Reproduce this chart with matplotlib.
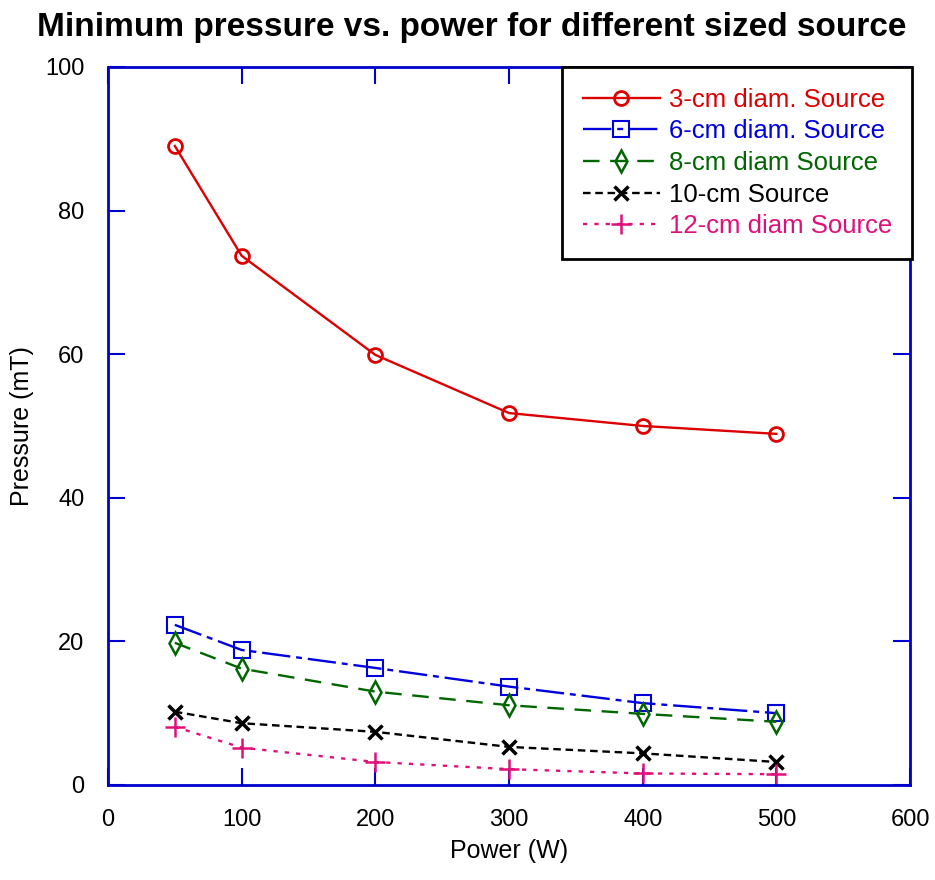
import matplotlib
matplotlib.use("Agg")
import matplotlib.pyplot as plt

plt.rcParams['font.family'] = ['Liberation Sans', 'DejaVu Sans']

power = [50, 100, 200, 300, 400, 500]
p_3cm = [89.0, 73.7, 59.9, 51.8, 50.0, 48.9]
p_6cm = [22.3, 18.8, 16.3, 13.7, 11.4, 10.0]
p_8cm = [19.8, 16.2, 13.0, 11.1, 9.9, 8.8]
p_10cm = [10.2, 8.6, 7.4, 5.3, 4.4, 3.2]
p_12cm = [8.1, 5.2, 3.2, 2.2, 1.6, 1.5]

labels = ['3-cm diam. Source', '6-cm diam. Source', '8-cm diam Source',
          '10-cm Source', '12-cm diam Source']

fig = plt.figure(figsize=(9.35, 8.8), dpi=100)
ax = fig.add_axes([0.1155, 0.108, 0.8578, 0.8159])

ax.plot(power, p_3cm, color='#dd0000', lw=1.7, marker='o', ms=10,
        mfc='none', mew=2, label=labels[0])
ax.plot(power, p_6cm, color='#0000dd', lw=1.7, marker='s', ms=11,
        mfc='none', mew=1.5, dashes=(12, 2.5, 2.5, 2.5), label=labels[1])
ax.plot(power, p_8cm, color='#006600', lw=1.7, marker='d', ms=11,
        mfc='none', mew=1.8, dashes=(7, 4.5), label=labels[2])
ax.plot(power, p_10cm, color='black', lw=1.7, marker='x', ms=10,
        mew=2.5, dashes=(3.2, 2), label=labels[3])
ax.plot(power, p_12cm, color='#e0107a', lw=1.7, marker='+', ms=14,
        mew=1.8, dashes=(1.8, 3), label=labels[4])

ax.set_xlim(0, 600)
ax.set_ylim(0, 100)
ax.set_xticks(range(0, 601, 100))
ax.set_yticks(range(0, 101, 20))
ax.tick_params(direction='in', length=12, width=1.5, color='#0000cc',
               labelsize=17, top=True, right=True, pad=17)
for s in ax.spines.values():
    s.set_color('#0000cc')
    s.set_linewidth(2)

ax.set_xlabel('Power (W)', fontsize=18, labelpad=6)
ax.set_ylabel('Pressure (mT)', fontsize=18, labelpad=8)
ax.set_title('Minimum pressure vs. power for different sized source',
             fontsize=24, fontweight='bold', pad=22, x=0.454)

leg = ax.legend(loc='upper right', bbox_to_anchor=(1.003, 1.0),
                borderaxespad=0, fontsize=18.5, handlelength=3.0,
                numpoints=1, fancybox=False, edgecolor='black',
                framealpha=1, labelcolor='linecolor', handletextpad=0.35,
                labelspacing=0.3, borderpad=0.8)
leg.get_frame().set_linewidth(2)

fig.savefig('out.png', dpi=100)
